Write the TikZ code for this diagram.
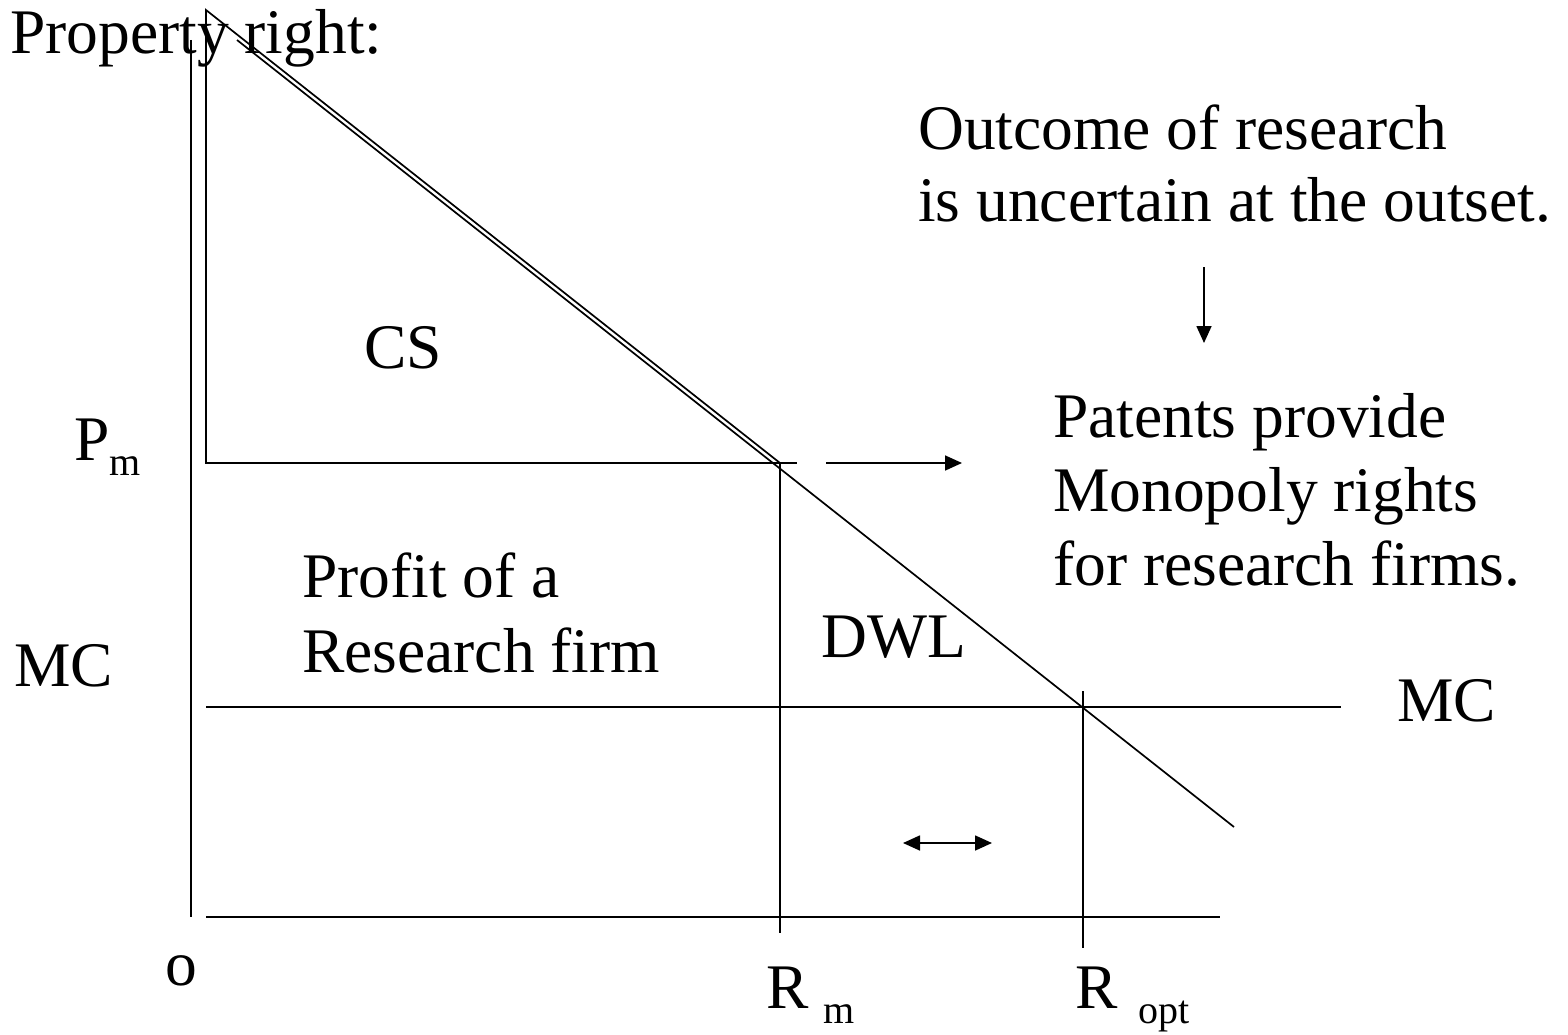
\documentclass[tikz,border=0pt]{standalone}
\usepackage{fontspec}
\setmainfont{Liberation Serif}
\usetikzlibrary{arrows.meta}
\newcommand{\bigtxt}{\fontsize{63.5}{73}\selectfont}
\newcommand{\subtxt}{\fontsize{40}{44}\selectfont}
\tikzset{
  lbl/.style={anchor=base west, inner sep=0pt, font=\bigtxt},
  ln/.style={line width=1.7pt, line cap=butt},
  arr/.style={ln, -{Triangle[length=17pt,width=15pt]}},
  darr/.style={ln, {Triangle[length=17pt,width=15pt]}-{Triangle[length=17pt,width=15pt]}}
}
\begin{document}
\begin{tikzpicture}[x=1pt,y=-1pt]
\useasboundingbox (0,0) rectangle (1568,1035);
% key points
\coordinate (axTop) at (191,40);
\coordinate (axBot) at (191,917);
\coordinate (triTop) at (206,10);
\coordinate (triPm) at (206,463);
\coordinate (mono) at (780,463);
\coordinate (pmEnd) at (797,463);
\coordinate (dTop) at (237,40);
\coordinate (dBot) at (1234,827);
\coordinate (rmBot) at (780,933);
\coordinate (roTop) at (1083,691);
\coordinate (roBot) at (1083,948);
\coordinate (mcL) at (206,707);
\coordinate (mcR) at (1341,707);
\coordinate (hL) at (206,917);
\coordinate (hR) at (1220,917);
\coordinate (a1s) at (826,463);
\coordinate (a1e) at (962,463);
\coordinate (a2s) at (1204,267);
\coordinate (a2e) at (1204,343);
\coordinate (a3s) at (903,843);
\coordinate (a3e) at (992,843);
% lines
\draw[ln] (axTop) -- (axBot);
\draw[ln] (triTop) -- (triPm) -- (mono) -- cycle;
\draw[ln] (triPm) -- (pmEnd);
\draw[ln] (dTop) -- (dBot);
\draw[ln] (mono) -- (rmBot);
\draw[ln] (roTop) -- (roBot);
\draw[ln] (mcL) -- (mcR);
\draw[ln] (hL) -- (hR);
\draw[arr] (a1s) -- (a1e);
\draw[arr] (a2s) -- (a2e);
\draw[darr] (a3s) -- (a3e);
% texts
\node[lbl] (prop) at (10,54) {Property right:};
\node[lbl] (out1) at (918,150) {Outcome of research};
\node[lbl] (out2) at (918,222) {is uncertain at the outset.};
\node[lbl] (cs) at (364,368) {CS};
\node[lbl] (pat1) at (1053,437) {Patents provide};
\node[lbl] (pat2) at (1053,511) {Monopoly rights};
\node[lbl] (pat3) at (1053,585) {for research firms.};
\node[lbl] (pm) at (74,460) {P\raisebox{-15pt}{\subtxt m}};
\node[lbl] (prof1) at (302,597) {Profit of a};
\node[lbl] (prof2) at (302,672) {Research firm};
\node[lbl] (dwl) at (821,657) {DWL};
\node[lbl] (mcl) at (14,686) {MC};
\node[lbl] (mcr) at (1397,721) {MC};
\node[lbl] (o) at (165,985) {o};
\node[lbl] (rm) at (766,1008) {R\hspace{15pt}\raisebox{-15pt}{\subtxt m}};
\node[lbl] (ro) at (1075,1008) {R\hspace{21pt}\raisebox{-15pt}{\subtxt opt}};
\end{tikzpicture}
\end{document}
